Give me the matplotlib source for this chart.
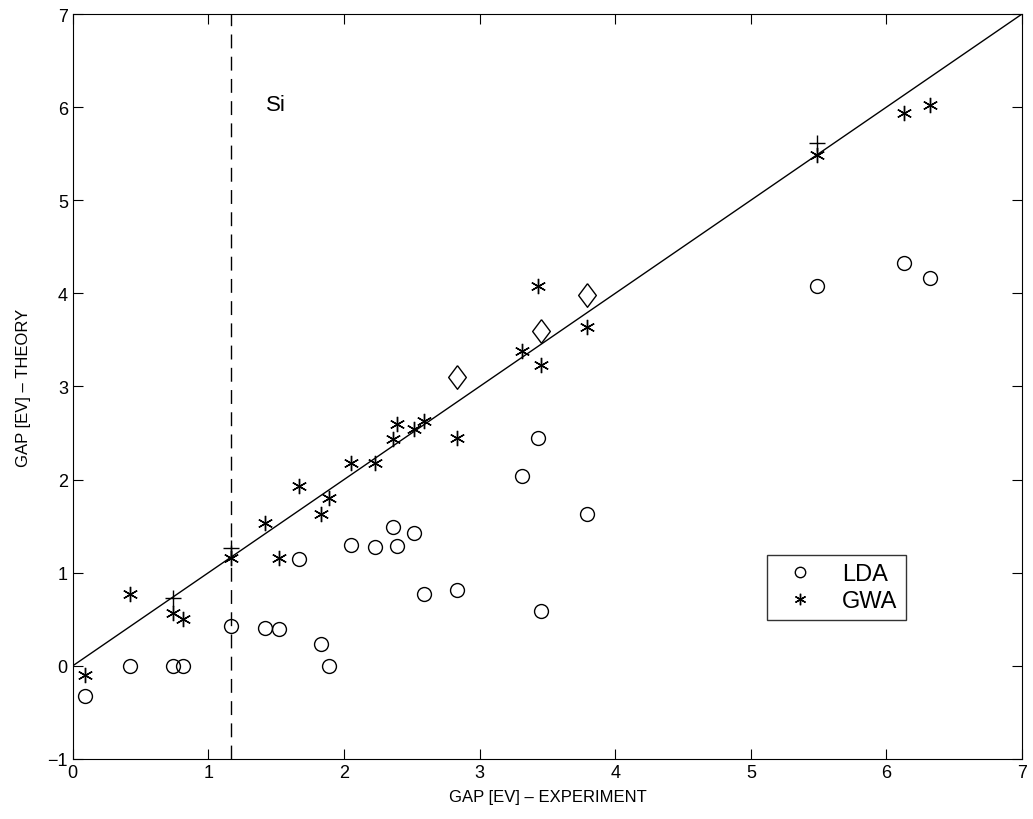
import matplotlib
matplotlib.use("Agg")
import matplotlib.pyplot as plt

plt.rcParams['font.family'] = ['Liberation Sans', 'DejaVu Sans']

# experimental gaps (eV)
gap_exp = [0.09, 0.42, 0.74, 0.81, 1.17, 1.42, 1.52, 1.67, 1.83, 1.89, 2.05, 2.23,
           2.36, 2.39, 2.52, 2.59, 2.83, 3.31, 3.43, 3.45, 3.79, 5.49, 6.13, 6.32]
# LDA gaps
gap_lda = [-0.32, 0.0, 0.0, 0.0, 0.43, 0.41, 0.40, 1.15, 0.23, 0.0, 1.30, 1.28,
           1.49, 1.29, 1.43, 0.77, 0.81, 2.04, 2.45, 0.59, 1.63, 4.08, 4.33, 4.17]
# GW gaps
gap_gw = [-0.10, 0.77, 0.57, 0.50, 1.16, 1.53, 1.16, 1.93, 1.63, 1.80, 2.18, 2.18,
          2.44, 2.60, 2.54, 2.63, 2.45, 3.38, 4.08, 3.23, 3.64, 5.49, 5.94, 6.02]

# extra points (plus / diamond markers)
plus_x = [0.74, 1.17, 5.49]
plus_y = [0.73, 1.27, 5.61]
diam_x = [2.83, 3.45, 3.79]
diam_y = [3.10, 3.60, 3.98]

si_gap = 1.17

fig = plt.figure(figsize=(10.33, 8.2), dpi=100)
ax = fig.add_axes([0.0704, 0.0732, 0.919, 0.9085])

ax.plot([0, 7], [0, 7], color='black', lw=1.0)
ax.plot([si_gap, si_gap], [-1, 7], color='black', lw=1.0, dashes=(10, 6))

ax.plot(gap_exp, gap_lda, linestyle='none', marker='o', ms=10, mfc='none',
        mec='black', mew=1.0, label='LDA')
ax.plot(gap_exp, gap_gw, linestyle='none', marker=(6, 2, 0), ms=11,
        color='black', mew=1.0, label='GWA')
ax.plot(plus_x, plus_y, linestyle='none', marker='+', ms=12, color='black', mew=1.0)
diamond = [(0, 1), (0.75, 0), (0, -1), (-0.75, 0), (0, 1)]
ax.plot(diam_x, diam_y, linestyle='none', marker=diamond, ms=17, mfc='none',
        mec='black', mew=1.0)

ax.text(1.5, 6.03, 'Si', fontsize=16, ha='center', va='center')

ax.set_xlim(0, 7)
ax.set_ylim(-1, 7)
ax.set_xticks(range(0, 8))
ax.set_yticks(range(-1, 8))
ax.tick_params(direction='in', top=True, right=True, length=7, labelsize=13)
ax.set_xlabel('GAP [EV] \u2013 EXPERIMENT', fontsize=12, labelpad=6)
ax.set_ylabel('GAP [EV] \u2013 THEORY', fontsize=12, labelpad=12)

leg = ax.legend(loc='lower left', bbox_to_anchor=(0.731, 0.186), fontsize=17,
                frameon=True, fancybox=False, edgecolor='black',
                handlelength=2.1, handletextpad=0.75, borderpad=0.35,
                labelspacing=0.2, markerscale=0.75, borderaxespad=0)
leg.get_frame().set_linewidth(1.0)

fig.savefig('out.png', dpi=100)
